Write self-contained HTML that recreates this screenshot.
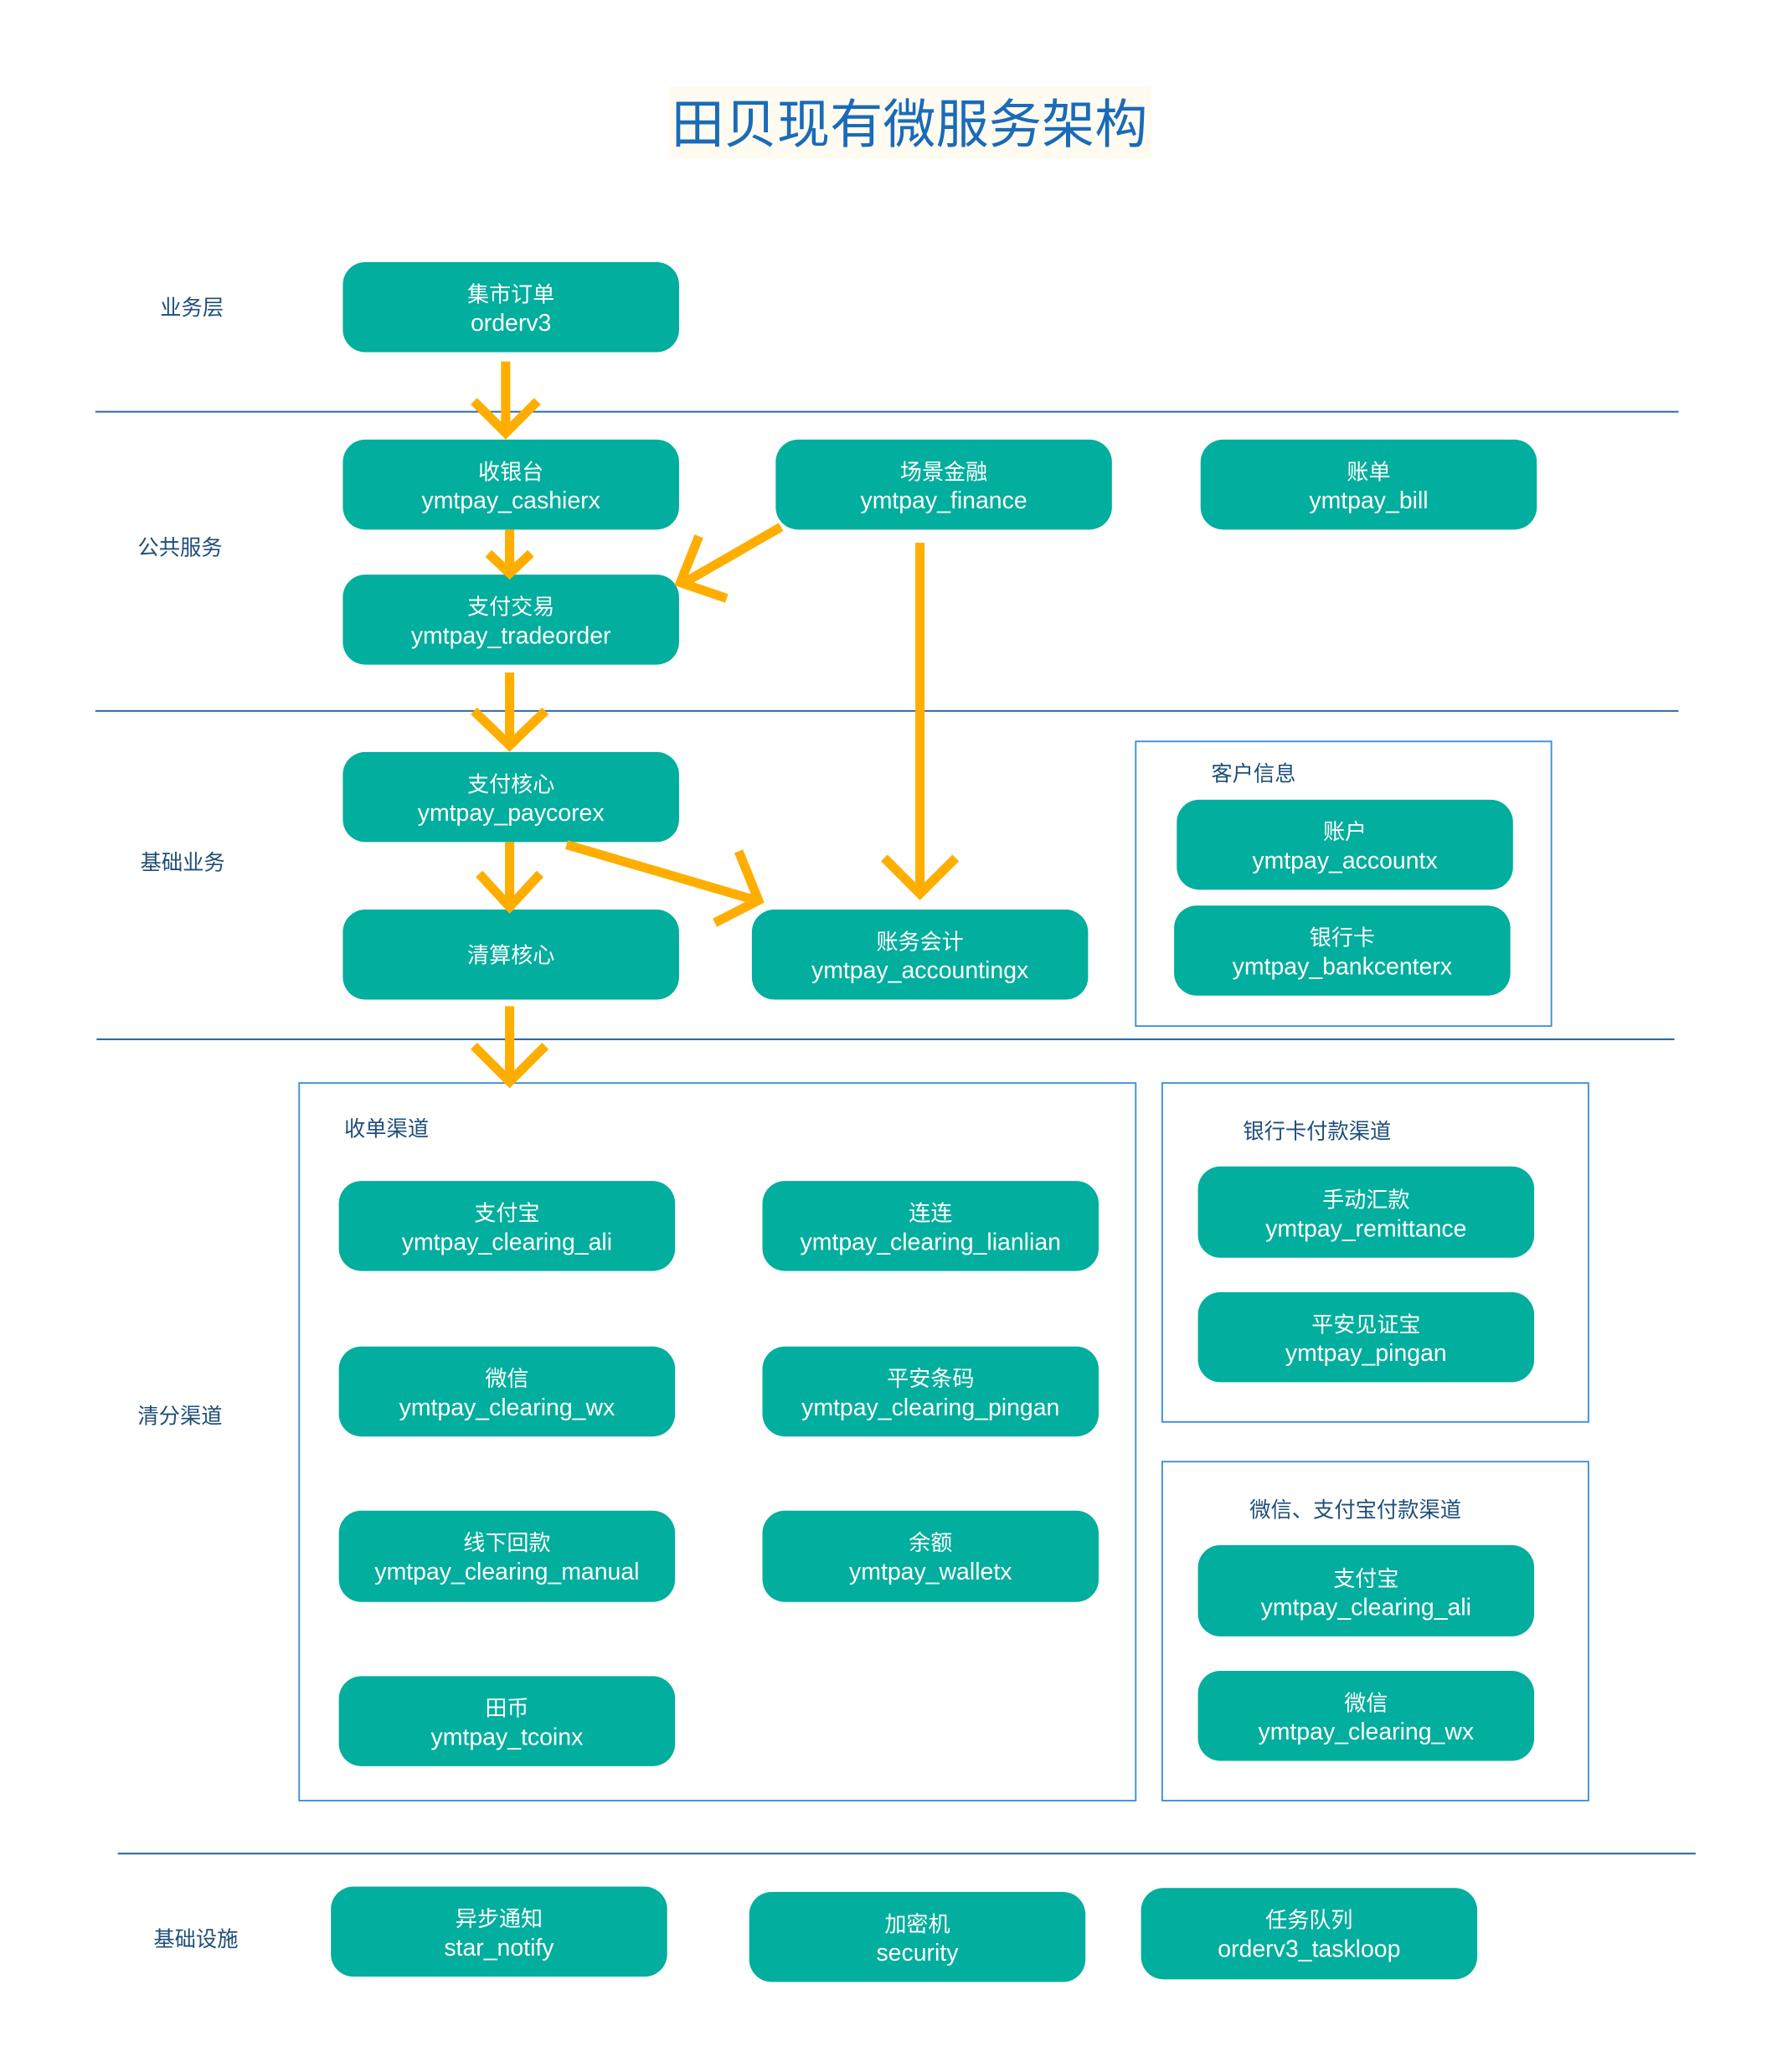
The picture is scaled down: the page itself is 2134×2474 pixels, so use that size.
<!DOCTYPE html>
<html><head><meta charset="utf-8"><style>
html,body{margin:0;padding:0;background:#fff;}
svg{display:block;}
.n{fill:#02AE9D;}
.t{fill:#fff;font-family:"Liberation Sans","Noto Sans CJK SC",sans-serif;font-size:16.5px;text-anchor:middle;}
.t2{font-size:18px;}
.l{fill:#1F4E79;font-family:"Liberation Sans","Noto Sans CJK SC",sans-serif;font-size:16px;}
.a{stroke:#FFAE00;stroke-width:7;fill:none;stroke-linejoin:miter;}
.g{fill:none;stroke:#3F8FD8;stroke-width:1.2;}
.h{stroke:#2F6B9E;stroke-width:1.3;}
</style></head><body>
<svg width="2134" height="2474" viewBox="0 0 1350 1565" preserveAspectRatio="none" xmlns="http://www.w3.org/2000/svg">
<rect x="505" y="65" width="365" height="55" fill="#FFFBF0"/>
<text x="687" y="108" fill="#1A6BB8" font-family="Liberation Sans,Noto Sans CJK SC,sans-serif" font-size="40" text-anchor="middle">田贝现有微服务架构</text>

<line class="h" x1="72" y1="311" x2="1268" y2="311"/>
<line class="h" x1="72" y1="537" x2="1268" y2="537"/>
<line class="h" x1="73" y1="785" x2="1265" y2="785"/>
<line class="h" x1="89" y1="1400" x2="1281" y2="1400"/>

<text class="l" x="121" y="238">业务层</text>
<text class="l" x="104" y="419">公共服务</text>
<text class="l" x="106" y="657">基础业务</text>
<text class="l" x="104" y="1075">清分渠道</text>
<text class="l" x="116" y="1470">基础设施</text>

<rect class="g" x="858" y="560" width="314" height="215"/>
<rect class="g" x="226" y="818" width="632" height="542"/>
<rect class="g" x="878" y="818" width="322" height="256"/>
<rect class="g" x="878" y="1104" width="322" height="256"/>
<text class="l" x="915" y="590">客户信息</text>
<text class="l" x="260" y="858">收单渠道</text>
<text class="l" x="939" y="860">银行卡付款渠道</text>
<text class="l" x="944" y="1146">微信、支付宝付款渠道</text>

<g>
<rect class="n" x="259" y="198" width="254" height="68" rx="17"/><text class="t" x="386" y="228">集市订单</text><text class="t t2" x="386" y="250">orderv3</text>
<rect class="n" x="259" y="332" width="254" height="68" rx="17"/><text class="t" x="386" y="362">收银台</text><text class="t t2" x="386" y="384">ymtpay_cashierx</text>
<rect class="n" x="586" y="332" width="254" height="68" rx="17"/><text class="t" x="713" y="362">场景金融</text><text class="t t2" x="713" y="384">ymtpay_finance</text>
<rect class="n" x="907" y="332" width="254" height="68" rx="17"/><text class="t" x="1034" y="362">账单</text><text class="t t2" x="1034" y="384">ymtpay_bill</text>
<rect class="n" x="259" y="434" width="254" height="68" rx="17"/><text class="t" x="386" y="464">支付交易</text><text class="t t2" x="386" y="486">ymtpay_tradeorder</text>
<rect class="n" x="259" y="568" width="254" height="68" rx="17"/><text class="t" x="386" y="598">支付核心</text><text class="t t2" x="386" y="620">ymtpay_paycorex</text>
<rect class="n" x="259" y="687" width="254" height="68" rx="17"/><text class="t" x="386" y="727">清算核心</text>
<rect class="n" x="568" y="687" width="254" height="68" rx="17"/><text class="t" x="695" y="717">账务会计</text><text class="t t2" x="695" y="739">ymtpay_accountingx</text>
<rect class="n" x="889" y="604" width="254" height="68" rx="17"/><text class="t" x="1016" y="634">账户</text><text class="t t2" x="1016" y="656">ymtpay_accountx</text>
<rect class="n" x="887" y="684" width="254" height="68" rx="17"/><text class="t" x="1014" y="714">银行卡</text><text class="t t2" x="1014" y="736">ymtpay_bankcenterx</text>

<rect class="n" x="256" y="892" width="254" height="68" rx="17"/><text class="t" x="383" y="922">支付宝</text><text class="t t2" x="383" y="944">ymtpay_clearing_ali</text>
<rect class="n" x="576" y="892" width="254" height="68" rx="17"/><text class="t" x="703" y="922">连连</text><text class="t t2" x="703" y="944">ymtpay_clearing_lianlian</text>
<rect class="n" x="256" y="1017" width="254" height="68" rx="17"/><text class="t" x="383" y="1047">微信</text><text class="t t2" x="383" y="1069">ymtpay_clearing_wx</text>
<rect class="n" x="576" y="1017" width="254" height="68" rx="17"/><text class="t" x="703" y="1047">平安条码</text><text class="t t2" x="703" y="1069">ymtpay_clearing_pingan</text>
<rect class="n" x="256" y="1141" width="254" height="69" rx="17"/><text class="t" x="383" y="1171">线下回款</text><text class="t t2" x="383" y="1193">ymtpay_clearing_manual</text>
<rect class="n" x="576" y="1141" width="254" height="69" rx="17"/><text class="t" x="703" y="1171">余额</text><text class="t t2" x="703" y="1193">ymtpay_walletx</text>
<rect class="n" x="256" y="1266" width="254" height="68" rx="17"/><text class="t" x="383" y="1296">田币</text><text class="t t2" x="383" y="1318">ymtpay_tcoinx</text>

<rect class="n" x="905" y="881" width="254" height="69" rx="17"/><text class="t" x="1032" y="912">手动汇款</text><text class="t t2" x="1032" y="934">ymtpay_remittance</text>
<rect class="n" x="905" y="976" width="254" height="68" rx="17"/><text class="t" x="1032" y="1006">平安见证宝</text><text class="t t2" x="1032" y="1028">ymtpay_pingan</text>
<rect class="n" x="905" y="1167" width="254" height="69" rx="17"/><text class="t" x="1032" y="1198">支付宝</text><text class="t t2" x="1032" y="1220">ymtpay_clearing_ali</text>
<rect class="n" x="905" y="1262" width="254" height="68" rx="17"/><text class="t" x="1032" y="1292">微信</text><text class="t t2" x="1032" y="1314">ymtpay_clearing_wx</text>

<rect class="n" x="250" y="1425" width="254" height="68" rx="17"/><text class="t" x="377" y="1455">异步通知</text><text class="t t2" x="377" y="1477">star_notify</text>
<rect class="n" x="566" y="1429" width="254" height="68" rx="17"/><text class="t" x="693" y="1459">加密机</text><text class="t t2" x="693" y="1481">security</text>
<rect class="n" x="862" y="1426" width="254" height="69" rx="17"/><text class="t" x="989" y="1456">任务队列</text><text class="t t2" x="989" y="1478">orderv3_taskloop</text>
</g>

<g class="a">
<path d="M382 273V325M358 303L382 327L406 303"/>
<path d="M385 400V431M369 418L385 433L401 418"/>
<path d="M590 398L517 440M528 405L514 440L549 452"/>
<path d="M385 508V561M358 537L385 563L412 537"/>
<path d="M695 410V673M668 648L695 675L722 648"/>
<path d="M385 636V683M362 660L385 685L408 660"/>
<path d="M428 638L571 680M558 643L573 680L540 697"/>
<path d="M385 760V815M358 790L385 817L412 790"/>
</g>
</svg>
</body></html>
